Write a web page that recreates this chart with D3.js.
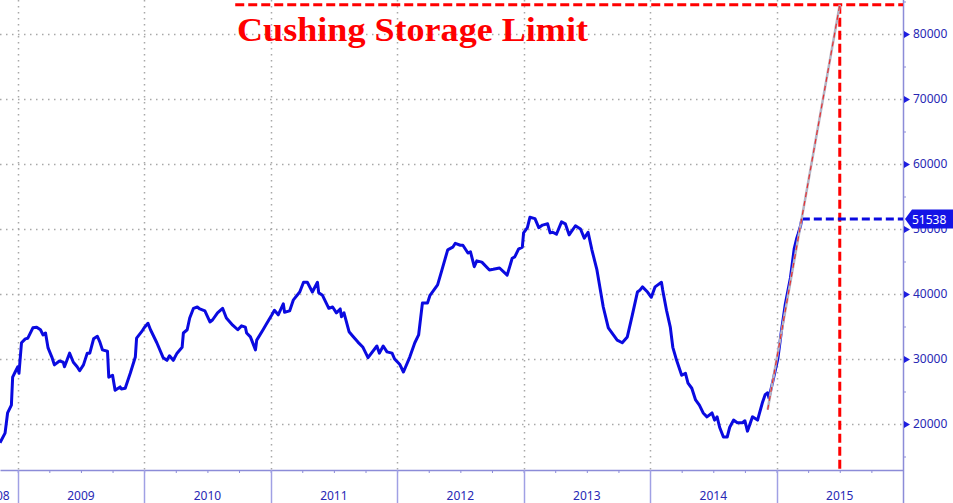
<!DOCTYPE html>
<html>
<head>
<meta charset="utf-8">
<script src="https://cdn.jsdelivr.net/npm/d3@7"></script>
<style>
  body { margin: 0; background: #fff; }
  svg { display: block; }
</style>
</head>
<body>
<div id="chart"></div>
<script>
// weekly Cushing crude stocks (barrels, thousands)
const weeks = [
  2008.86, 2008.90, 2008.92, 2008.95, 2008.96, 2008.98, 2009.00, 2009.01, 2009.03, 2009.06,
  2009.08, 2009.12, 2009.15, 2009.18, 2009.20, 2009.22, 2009.24, 2009.27, 2009.29, 2009.33,
  2009.36, 2009.37, 2009.41, 2009.44, 2009.47, 2009.49, 2009.52, 2009.55, 2009.57, 2009.60,
  2009.63, 2009.65, 2009.67, 2009.71, 2009.72, 2009.75, 2009.77, 2009.81, 2009.82, 2009.85,
  2009.89, 2009.93, 2009.94, 2009.98, 2010.00, 2010.03, 2010.05, 2010.10, 2010.15, 2010.18,
  2010.20, 2010.23, 2010.26, 2010.30, 2010.31, 2010.34, 2010.36, 2010.39, 2010.42, 2010.44,
  2010.48, 2010.52, 2010.54, 2010.58, 2010.62, 2010.65, 2010.70, 2010.74, 2010.77, 2010.80,
  2010.81, 2010.84, 2010.88, 2010.89, 2010.94, 2010.97, 2011.01, 2011.03, 2011.06, 2011.10,
  2011.11, 2011.15, 2011.18, 2011.23, 2011.26, 2011.29, 2011.33, 2011.37, 2011.38, 2011.41,
  2011.46, 2011.49, 2011.52, 2011.55, 2011.56, 2011.58, 2011.62, 2011.65, 2011.69, 2011.73,
  2011.77, 2011.84, 2011.86, 2011.89, 2011.92, 2011.96, 2011.98, 2012.02, 2012.05, 2012.10,
  2012.14, 2012.17, 2012.20, 2012.24, 2012.26, 2012.32, 2012.35, 2012.40, 2012.44, 2012.46,
  2012.50, 2012.52, 2012.56, 2012.58, 2012.61, 2012.63, 2012.67, 2012.73, 2012.76, 2012.81,
  2012.87, 2012.91, 2012.93, 2012.96, 2012.99, 2013.00, 2013.03, 2013.05, 2013.09, 2013.12,
  2013.15, 2013.19, 2013.21, 2013.23, 2013.26, 2013.30, 2013.33, 2013.36, 2013.41, 2013.45,
  2013.48, 2013.51, 2013.54, 2013.58, 2013.63, 2013.67, 2013.71, 2013.74, 2013.78, 2013.82,
  2013.86, 2013.90, 2013.92, 2013.94, 2013.98, 2014.01, 2014.04, 2014.09, 2014.10, 2014.13,
  2014.16, 2014.18, 2014.21, 2014.25, 2014.28, 2014.30, 2014.33, 2014.36, 2014.39, 2014.42,
  2014.45, 2014.49, 2014.51, 2014.53, 2014.55, 2014.58, 2014.61, 2014.63, 2014.66, 2014.69,
  2014.73, 2014.75, 2014.77, 2014.81, 2014.85, 2014.89, 2014.91, 2014.93, 2014.94, 2014.97,
  2015.01, 2015.04, 2015.07, 2015.11, 2015.14, 2015.16, 2015.17, 2015.19, 2015.20
];
const stocks = [
  17100, 18600, 21700, 22900, 27200, 28000, 28800, 27800, 32500, 33100,
  33200, 34800, 34900, 34500, 33700, 34000, 31700, 30300, 29100, 29700,
  29500, 28800, 30900, 29500, 28800, 28200, 29100, 30900, 30900, 33100,
  33500, 32600, 31400, 31200, 27200, 27500, 25200, 25700, 25400, 25500,
  27800, 30300, 33200, 34200, 34800, 35500, 34500, 32500, 30200, 29800,
  30500, 29800, 30900, 31800, 34000, 34500, 36300, 37800, 38000, 37700,
  37400, 35700, 36000, 37100, 37800, 36300, 35200, 34500, 35100, 34900,
  34000, 33400, 31400, 32900, 34500, 35500, 36800, 37500, 36800, 38500,
  37200, 37400, 39100, 40300, 41800, 41800, 40300, 41800, 40200, 39800,
  37800, 38000, 37100, 37700, 36500, 37100, 34200, 33500, 32600, 31800,
  30200, 32000, 30900, 32000, 31100, 30900, 30000, 29200, 28000, 30300,
  32500, 33700, 38600, 38600, 39800, 41400, 43400, 46800, 47200, 47800,
  47500, 47500, 46300, 46500, 44200, 45100, 44900, 43700, 43800, 44000,
  42900, 45500, 45700, 46900, 47200, 49400, 50200, 51800, 51600, 50200,
  50600, 50800, 49400, 49500, 49200, 51100, 50800, 49100, 50500, 50000,
  48600, 49500, 46800, 43700, 38000, 34800, 33700, 32900, 32500, 33400,
  36800, 40300, 40600, 41100, 40300, 39500, 41100, 41800, 40600, 37500,
  34900, 31800, 29800, 27500, 27800, 26300, 25500, 23700, 22900, 21700,
  21100, 21700, 20600, 21100, 19500, 18000, 18000, 19500, 20600, 20200,
  20200, 20500, 18900, 21100, 20600, 23400, 24500, 24800, 24000, 26500,
  30000, 34500, 38500, 42500, 47000, 48600, 49200, 50500, 51538
];

const yTicks = [20000, 30000, 40000, 50000, 60000, 70000, 80000];
const yMinorTicks = [15000, 25000, 35000, 45000, 55000, 65000, 75000, 85000];
const yearLabels = ["2008", "2009", "2010", "2011", "2012", "2013", "2014", "2015"];

const lastValue = 51538;
const storageLimit = 84500;
const limitYear = 2015.5;
const trendStart = [2014.93, 22200];
const limitLineStart = 2010.72;
const titleText = "Cushing Storage Limit";

const W = 953, H = 503;
const plotW = 903, plotH = 470;

const svg = d3.select("#chart")
  .append("svg")
  .attr("width", W)
  .attr("height", H);

const x = d3.scaleLinear()
  .domain([2008.86, 2016])
  .range([0, plotW]);

const y = d3.scaleLinear()
  .domain([20000, 80000])
  .range([424, 34]);

const axisColor = "#8c8cd8";
const labelColor = "#2828b4";
const years = yearLabels.map(d => +d);

// grid
svg.append("g")
  .selectAll("line")
  .data(yTicks)
  .join("line")
  .attr("x1", 0)
  .attr("x2", plotW)
  .attr("y1", d => Math.round(y(d)) + 0.5)
  .attr("y2", d => Math.round(y(d)) + 0.5)
  .attr("stroke", "#a8a8a8")
  .attr("stroke-width", 1.5)
  .attr("stroke-dasharray", "1.5,4.5");

svg.append("g")
  .selectAll("line")
  .data(years.slice(1))
  .join("line")
  .attr("x1", d => Math.round(x(d)) + 0.5)
  .attr("x2", d => Math.round(x(d)) + 0.5)
  .attr("y1", 0)
  .attr("y2", plotH)
  .attr("stroke", "#a8a8a8")
  .attr("stroke-width", 1.5)
  .attr("stroke-dasharray", "1.5,4.5");

// title
svg.append("text")
  .attr("x", 237)
  .attr("y", 41)
  .attr("fill", "#ff0000")
  .style("font-family", "'Liberation Serif', 'DejaVu Serif', serif")
  .style("font-weight", "bold")
  .style("font-size", "34px")
  .attr("textLength", 351)
  .attr("lengthAdjust", "spacingAndGlyphs")
  .text(titleText);

// bottom axis with quarter ticks
const quarters = d3.range(2009, 2016.01, 0.25);
const xAxis = svg.append("g")
  .attr("transform", `translate(0,${plotH})`)
  .call(d3.axisBottom(x).tickValues(quarters).tickSize(3).tickSizeOuter(0).tickFormat(""));
xAxis.select(".domain").attr("stroke", axisColor).attr("stroke-width", 1.5);
xAxis.selectAll(".tick line").attr("stroke", axisColor);

svg.append("g")
  .selectAll("line")
  .data(years.slice(1))
  .join("line")
  .attr("x1", d => Math.round(x(d)) + 0.5)
  .attr("x2", d => Math.round(x(d)) + 0.5)
  .attr("y1", plotH)
  .attr("y2", H)
  .attr("stroke", "#a0a0e4")
  .attr("stroke-width", 1.5);

svg.append("g")
  .selectAll("text")
  .data(years)
  .join("text")
  .attr("x", d => d === 2008 ? x(2009) - 8 : x(d + 0.5))
  .attr("y", 500)
  .attr("text-anchor", d => d === 2008 ? "end" : "middle")
  .attr("fill", labelColor)
  .style("font-family", "'Noto Sans', sans-serif")
  .style("font-size", "12px")
  .text(d => d);

// right axis
svg.append("line")
  .attr("x1", plotW + 0.5)
  .attr("x2", plotW + 0.5)
  .attr("y1", 0)
  .attr("y2", H)
  .attr("stroke", axisColor)
  .attr("stroke-width", 1.5);

const yMinor = svg.append("g")
  .attr("transform", `translate(${plotW},0)`)
  .call(d3.axisRight(y).tickValues(yMinorTicks).tickSize(3).tickFormat(""));
yMinor.select(".domain").remove();
yMinor.selectAll(".tick line").attr("stroke", axisColor);

const yAxis = svg.append("g")
  .attr("transform", `translate(${plotW},0)`)
  .call(d3.axisRight(y).tickValues(yTicks).tickSize(0).tickPadding(10).tickFormat(d3.format("d")));
yAxis.select(".domain").remove();
yAxis.selectAll(".tick text")
  .attr("fill", labelColor)
  .style("font-family", "'Noto Sans', sans-serif")
  .style("font-size", "12px");
yAxis.selectAll(".tick")
  .append("path")
  .attr("d", "M1,-3.5L7,0L1,3.5Z")
  .attr("fill", "#1e1ee0");

// storage limit lines
svg.append("line")
  .attr("x1", x(limitLineStart))
  .attr("x2", plotW)
  .attr("y1", y(storageLimit))
  .attr("y2", y(storageLimit))
  .attr("stroke", "#ff0000")
  .attr("stroke-width", 3)
  .attr("stroke-dasharray", "9,4");

svg.append("line")
  .attr("x1", x(limitYear))
  .attr("x2", x(limitYear))
  .attr("y1", y(storageLimit))
  .attr("y2", plotH)
  .attr("stroke", "#ff0000")
  .attr("stroke-width", 3)
  .attr("stroke-dasharray", "9,4");

// stocks line
const line = d3.line()
  .x((d, i) => x(weeks[i]))
  .y(d => y(d));

svg.append("path")
  .datum(stocks)
  .attr("d", line)
  .attr("fill", "none")
  .attr("stroke", "#0a0ae0")
  .attr("stroke-width", 3)
  .attr("stroke-linejoin", "round");

// last value line + label
const lastYear = weeks[weeks.length - 1];
svg.append("line")
  .attr("x1", x(lastYear))
  .attr("x2", plotW)
  .attr("y1", y(lastValue))
  .attr("y2", y(lastValue))
  .attr("stroke", "#0a0ae0")
  .attr("stroke-width", 3)
  .attr("stroke-dasharray", "8,4");

// projection to the limit
const trend = [trendStart, [limitYear, storageLimit]];
const trendLine = d3.line().x(d => x(d[0])).y(d => y(d[1]));
svg.append("path")
  .datum(trend)
  .attr("d", trendLine)
  .attr("fill", "none")
  .attr("stroke", "#b4b4c4")
  .attr("stroke-width", 2.5);
svg.append("path")
  .datum(trend)
  .attr("d", trendLine)
  .attr("fill", "none")
  .attr("stroke", "#e83030")
  .attr("stroke-width", 1.2)
  .attr("stroke-dasharray", "5,4");

const ly = y(lastValue);
svg.append("path")
  .attr("d", `M${plotW + 2},${ly} L${plotW + 9},${ly - 9.5} L${W},${ly - 9.5} L${W},${ly + 9.5} L${plotW + 9},${ly + 9.5} Z`)
  .attr("fill", "#1414e6");
svg.append("text")
  .attr("x", plotW + 9)
  .attr("y", ly + 4.5)
  .attr("fill", "#ffffff")
  .style("font-family", "'Noto Sans', sans-serif")
  .style("font-size", "12px")
  .text(d3.format("d")(lastValue));
</script>
</body>
</html>
